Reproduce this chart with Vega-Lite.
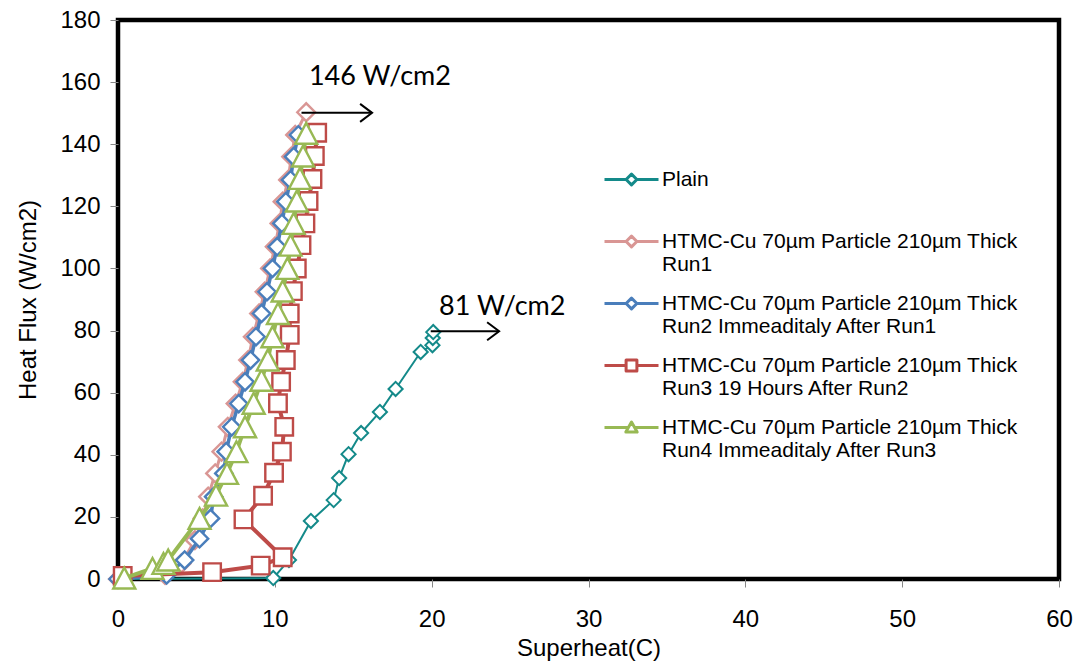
{
  "$schema": "https://vega.github.io/schema/vega-lite/v6.json",
  "width": 941,
  "height": 559,
  "autosize": {"type": "none"},
  "padding": {"left": 118, "top": 20, "right": 19, "bottom": 88},
  "background": "white",
  "config": {
    "font": "Liberation Sans",
    "view": {"stroke": "black", "strokeWidth": 4.5},
    "axis": {
      "domain": false, "grid": false, "tickColor": "#868686", "tickSize": 8, "tickWidth": 1, "labelFlush": false,
      "labelFont": "Liberation Sans", "labelFontSize": 24, "labelColor": "black",
      "titleFont": "Liberation Sans", "titleFontSize": 24, "titleFontWeight": "normal", "titleColor": "black"
    },
    "line": {"strokeJoin": "round"},
    "point": {"filled": false, "fill": "white", "opacity": 1}
  },
  "datasets": {
    "series": [
      {"series": "Plain", "superheat": 0, "flux": 0},
      {"series": "Plain", "superheat": 9.9, "flux": 0.3},
      {"series": "Plain", "superheat": 10.9, "flux": 6.1},
      {"series": "Plain", "superheat": 12.3, "flux": 18.7},
      {"series": "Plain", "superheat": 13.75, "flux": 25.4},
      {"series": "Plain", "superheat": 14.1, "flux": 32.5},
      {"series": "Plain", "superheat": 14.7, "flux": 40.2},
      {"series": "Plain", "superheat": 15.5, "flux": 47.0},
      {"series": "Plain", "superheat": 16.7, "flux": 53.8},
      {"series": "Plain", "superheat": 17.7, "flux": 61.2},
      {"series": "Plain", "superheat": 19.3, "flux": 73.1},
      {"series": "Plain", "superheat": 20.05, "flux": 75.3},
      {"series": "Plain", "superheat": 20.07, "flux": 77.6},
      {"series": "Plain", "superheat": 20.1, "flux": 79.5},

      {"series": "HTMC-Cu 70µm Particle 210µm Thick|Run1", "superheat": 0, "flux": 0},
      {"series": "HTMC-Cu 70µm Particle 210µm Thick|Run1", "superheat": 3.0, "flux": 1.3},
      {"series": "HTMC-Cu 70µm Particle 210µm Thick|Run1", "superheat": 4.05, "flux": 5.0},
      {"series": "HTMC-Cu 70µm Particle 210µm Thick|Run1", "superheat": 4.9, "flux": 12.5},
      {"series": "HTMC-Cu 70µm Particle 210µm Thick|Run1", "superheat": 5.4, "flux": 19.5},
      {"series": "HTMC-Cu 70µm Particle 210µm Thick|Run1", "superheat": 5.75, "flux": 26.5},
      {"series": "HTMC-Cu 70µm Particle 210µm Thick|Run1", "superheat": 6.2, "flux": 34.0},
      {"series": "HTMC-Cu 70µm Particle 210µm Thick|Run1", "superheat": 6.6, "flux": 41.0},
      {"series": "HTMC-Cu 70µm Particle 210µm Thick|Run1", "superheat": 7.0, "flux": 49.0},
      {"series": "HTMC-Cu 70µm Particle 210µm Thick|Run1", "superheat": 7.5, "flux": 56.5},
      {"series": "HTMC-Cu 70µm Particle 210µm Thick|Run1", "superheat": 7.95, "flux": 63.5},
      {"series": "HTMC-Cu 70µm Particle 210µm Thick|Run1", "superheat": 8.3, "flux": 70.5},
      {"series": "HTMC-Cu 70µm Particle 210µm Thick|Run1", "superheat": 8.6, "flux": 78.0},
      {"series": "HTMC-Cu 70µm Particle 210µm Thick|Run1", "superheat": 9.0, "flux": 85.5},
      {"series": "HTMC-Cu 70µm Particle 210µm Thick|Run1", "superheat": 9.35, "flux": 92.5},
      {"series": "HTMC-Cu 70µm Particle 210µm Thick|Run1", "superheat": 9.7, "flux": 100.0},
      {"series": "HTMC-Cu 70µm Particle 210µm Thick|Run1", "superheat": 10.0, "flux": 107.0},
      {"series": "HTMC-Cu 70µm Particle 210µm Thick|Run1", "superheat": 10.3, "flux": 114.5},
      {"series": "HTMC-Cu 70µm Particle 210µm Thick|Run1", "superheat": 10.5, "flux": 121.5},
      {"series": "HTMC-Cu 70µm Particle 210µm Thick|Run1", "superheat": 10.85, "flux": 128.5},
      {"series": "HTMC-Cu 70µm Particle 210µm Thick|Run1", "superheat": 11.05, "flux": 136.0},
      {"series": "HTMC-Cu 70µm Particle 210µm Thick|Run1", "superheat": 11.3, "flux": 143.0},
      {"series": "HTMC-Cu 70µm Particle 210µm Thick|Run1", "superheat": 12.0, "flux": 150.3},

      {"series": "HTMC-Cu 70µm Particle 210µm Thick|Run2 Immeaditaly After Run1", "superheat": 0, "flux": 0},
      {"series": "HTMC-Cu 70µm Particle 210µm Thick|Run2 Immeaditaly After Run1", "superheat": 3.1, "flux": 1.3},
      {"series": "HTMC-Cu 70µm Particle 210µm Thick|Run2 Immeaditaly After Run1", "superheat": 4.25, "flux": 6.1},
      {"series": "HTMC-Cu 70µm Particle 210µm Thick|Run2 Immeaditaly After Run1", "superheat": 5.2, "flux": 13.0},
      {"series": "HTMC-Cu 70µm Particle 210µm Thick|Run2 Immeaditaly After Run1", "superheat": 5.9, "flux": 19.5},
      {"series": "HTMC-Cu 70µm Particle 210µm Thick|Run2 Immeaditaly After Run1", "superheat": 6.1, "flux": 26.5},
      {"series": "HTMC-Cu 70µm Particle 210µm Thick|Run2 Immeaditaly After Run1", "superheat": 6.75, "flux": 34.0},
      {"series": "HTMC-Cu 70µm Particle 210µm Thick|Run2 Immeaditaly After Run1", "superheat": 6.9, "flux": 41.0},
      {"series": "HTMC-Cu 70µm Particle 210µm Thick|Run2 Immeaditaly After Run1", "superheat": 7.25, "flux": 49.0},
      {"series": "HTMC-Cu 70µm Particle 210µm Thick|Run2 Immeaditaly After Run1", "superheat": 7.7, "flux": 56.5},
      {"series": "HTMC-Cu 70µm Particle 210µm Thick|Run2 Immeaditaly After Run1", "superheat": 8.1, "flux": 63.5},
      {"series": "HTMC-Cu 70µm Particle 210µm Thick|Run2 Immeaditaly After Run1", "superheat": 8.45, "flux": 70.5},
      {"series": "HTMC-Cu 70µm Particle 210µm Thick|Run2 Immeaditaly After Run1", "superheat": 8.8, "flux": 78.0},
      {"series": "HTMC-Cu 70µm Particle 210µm Thick|Run2 Immeaditaly After Run1", "superheat": 9.15, "flux": 85.5},
      {"series": "HTMC-Cu 70µm Particle 210µm Thick|Run2 Immeaditaly After Run1", "superheat": 9.5, "flux": 92.5},
      {"series": "HTMC-Cu 70µm Particle 210µm Thick|Run2 Immeaditaly After Run1", "superheat": 9.85, "flux": 100.0},
      {"series": "HTMC-Cu 70µm Particle 210µm Thick|Run2 Immeaditaly After Run1", "superheat": 10.15, "flux": 107.0},
      {"series": "HTMC-Cu 70µm Particle 210µm Thick|Run2 Immeaditaly After Run1", "superheat": 10.45, "flux": 114.5},
      {"series": "HTMC-Cu 70µm Particle 210µm Thick|Run2 Immeaditaly After Run1", "superheat": 10.7, "flux": 121.5},
      {"series": "HTMC-Cu 70µm Particle 210µm Thick|Run2 Immeaditaly After Run1", "superheat": 11.0, "flux": 128.5},
      {"series": "HTMC-Cu 70µm Particle 210µm Thick|Run2 Immeaditaly After Run1", "superheat": 11.2, "flux": 136.0},
      {"series": "HTMC-Cu 70µm Particle 210µm Thick|Run2 Immeaditaly After Run1", "superheat": 11.5, "flux": 143.0},

      {"series": "HTMC-Cu 70µm Particle 210µm Thick|Run3 19 Hours After Run2", "superheat": 0.3, "flux": 1.0},
      {"series": "HTMC-Cu 70µm Particle 210µm Thick|Run3 19 Hours After Run2", "superheat": 6.0, "flux": 2.2},
      {"series": "HTMC-Cu 70µm Particle 210µm Thick|Run3 19 Hours After Run2", "superheat": 9.1, "flux": 4.3},
      {"series": "HTMC-Cu 70µm Particle 210µm Thick|Run3 19 Hours After Run2", "superheat": 10.5, "flux": 7.0},
      {"series": "HTMC-Cu 70µm Particle 210µm Thick|Run3 19 Hours After Run2", "superheat": 8.0, "flux": 19.2},
      {"series": "HTMC-Cu 70µm Particle 210µm Thick|Run3 19 Hours After Run2", "superheat": 9.25, "flux": 26.8},
      {"series": "HTMC-Cu 70µm Particle 210µm Thick|Run3 19 Hours After Run2", "superheat": 9.95, "flux": 34.2},
      {"series": "HTMC-Cu 70µm Particle 210µm Thick|Run3 19 Hours After Run2", "superheat": 10.45, "flux": 41.0},
      {"series": "HTMC-Cu 70µm Particle 210µm Thick|Run3 19 Hours After Run2", "superheat": 10.6, "flux": 49.0},
      {"series": "HTMC-Cu 70µm Particle 210µm Thick|Run3 19 Hours After Run2", "superheat": 10.2, "flux": 56.6},
      {"series": "HTMC-Cu 70µm Particle 210µm Thick|Run3 19 Hours After Run2", "superheat": 10.4, "flux": 63.5},
      {"series": "HTMC-Cu 70µm Particle 210µm Thick|Run3 19 Hours After Run2", "superheat": 10.7, "flux": 70.5},
      {"series": "HTMC-Cu 70µm Particle 210µm Thick|Run3 19 Hours After Run2", "superheat": 10.95, "flux": 78.6},
      {"series": "HTMC-Cu 70µm Particle 210µm Thick|Run3 19 Hours After Run2", "superheat": 10.95, "flux": 85.5},
      {"series": "HTMC-Cu 70µm Particle 210µm Thick|Run3 19 Hours After Run2", "superheat": 11.15, "flux": 92.7},
      {"series": "HTMC-Cu 70µm Particle 210µm Thick|Run3 19 Hours After Run2", "superheat": 11.4, "flux": 100.0},
      {"series": "HTMC-Cu 70µm Particle 210µm Thick|Run3 19 Hours After Run2", "superheat": 11.7, "flux": 107.5},
      {"series": "HTMC-Cu 70µm Particle 210µm Thick|Run3 19 Hours After Run2", "superheat": 11.95, "flux": 114.5},
      {"series": "HTMC-Cu 70µm Particle 210µm Thick|Run3 19 Hours After Run2", "superheat": 12.15, "flux": 121.7},
      {"series": "HTMC-Cu 70µm Particle 210µm Thick|Run3 19 Hours After Run2", "superheat": 12.4, "flux": 128.8},
      {"series": "HTMC-Cu 70µm Particle 210µm Thick|Run3 19 Hours After Run2", "superheat": 12.55, "flux": 136.2},
      {"series": "HTMC-Cu 70µm Particle 210µm Thick|Run3 19 Hours After Run2", "superheat": 12.7, "flux": 143.7},

      {"series": "HTMC-Cu 70µm Particle 210µm Thick|Run4 Immeaditaly After Run3", "superheat": 0.4, "flux": 0.3},
      {"series": "HTMC-Cu 70µm Particle 210µm Thick|Run4 Immeaditaly After Run3", "superheat": 2.2, "flux": 3.4},
      {"series": "HTMC-Cu 70µm Particle 210µm Thick|Run4 Immeaditaly After Run3", "superheat": 2.9, "flux": 5.0},
      {"series": "HTMC-Cu 70µm Particle 210µm Thick|Run4 Immeaditaly After Run3", "superheat": 3.2, "flux": 6.1},
      {"series": "HTMC-Cu 70µm Particle 210µm Thick|Run4 Immeaditaly After Run3", "superheat": 5.2, "flux": 19.5},
      {"series": "HTMC-Cu 70µm Particle 210µm Thick|Run4 Immeaditaly After Run3", "superheat": 6.25, "flux": 27.0},
      {"series": "HTMC-Cu 70µm Particle 210µm Thick|Run4 Immeaditaly After Run3", "superheat": 6.95, "flux": 34.0},
      {"series": "HTMC-Cu 70µm Particle 210µm Thick|Run4 Immeaditaly After Run3", "superheat": 7.55, "flux": 41.0},
      {"series": "HTMC-Cu 70µm Particle 210µm Thick|Run4 Immeaditaly After Run3", "superheat": 8.1, "flux": 49.0},
      {"series": "HTMC-Cu 70µm Particle 210µm Thick|Run4 Immeaditaly After Run3", "superheat": 8.65, "flux": 56.6},
      {"series": "HTMC-Cu 70µm Particle 210µm Thick|Run4 Immeaditaly After Run3", "superheat": 9.15, "flux": 64.0},
      {"series": "HTMC-Cu 70µm Particle 210µm Thick|Run4 Immeaditaly After Run3", "superheat": 9.55, "flux": 70.5},
      {"series": "HTMC-Cu 70µm Particle 210µm Thick|Run4 Immeaditaly After Run3", "superheat": 9.85, "flux": 78.0},
      {"series": "HTMC-Cu 70µm Particle 210µm Thick|Run4 Immeaditaly After Run3", "superheat": 10.2, "flux": 85.5},
      {"series": "HTMC-Cu 70µm Particle 210µm Thick|Run4 Immeaditaly After Run3", "superheat": 10.5, "flux": 92.7},
      {"series": "HTMC-Cu 70µm Particle 210µm Thick|Run4 Immeaditaly After Run3", "superheat": 10.8, "flux": 100.0},
      {"series": "HTMC-Cu 70µm Particle 210µm Thick|Run4 Immeaditaly After Run3", "superheat": 11.0, "flux": 107.5},
      {"series": "HTMC-Cu 70µm Particle 210µm Thick|Run4 Immeaditaly After Run3", "superheat": 11.2, "flux": 114.5},
      {"series": "HTMC-Cu 70µm Particle 210µm Thick|Run4 Immeaditaly After Run3", "superheat": 11.4, "flux": 121.7},
      {"series": "HTMC-Cu 70µm Particle 210µm Thick|Run4 Immeaditaly After Run3", "superheat": 11.6, "flux": 129.0},
      {"series": "HTMC-Cu 70µm Particle 210µm Thick|Run4 Immeaditaly After Run3", "superheat": 11.8, "flux": 136.2},
      {"series": "HTMC-Cu 70µm Particle 210µm Thick|Run4 Immeaditaly After Run3", "superheat": 12.0, "flux": 143.5}
    ],
    "notes": [
      {"superheat": 16.7, "flux": 161.7, "label": "146 W/cm2"},
      {"superheat": 24.5, "flux": 87.6, "label": "81 W/cm2"}
    ],
    "arrows": [
      {"superheat": 11.7, "superheat2": 16.2, "flux": 150.1},
      {"superheat": 19.94, "superheat2": 24.3, "flux": 79.8}
    ]
  },
  "encoding": {
    "x": {"field": "superheat", "type": "quantitative", "title": "Superheat(C)",
          "scale": {"domain": [0, 60], "nice": false, "zero": false},
          "axis": {"values": [0, 10, 20, 30, 40, 50, 60], "labelPadding": 20, "titleY": 69, "titleBaseline": "middle"}},
    "y": {"field": "flux", "type": "quantitative", "title": "Heat Flux (W/cm2)",
          "scale": {"domain": [0, 180], "nice": false, "zero": false},
          "axis": {"values": [0, 20, 40, 60, 80, 100, 120, 140, 160, 180], "labelPadding": 10, "titleX": -90, "titleY": 279.5, "titleBaseline": "middle", "titleAlign": "center", "titleAngle": -90}}
  },
  "layer": [
    {
      "data": {"name": "series"},
      "transform": [{"filter": {"field": "series", "equal": "Plain"}}],
      "mark": {"type": "line", "strokeWidth": 2},
      "encoding": {
        "order": {"field": "flux", "type": "quantitative"},
        "color": {
          "field": "series", "type": "nominal",
          "scale": {
            "domain": ["Plain", "HTMC-Cu 70µm Particle 210µm Thick|Run1", "HTMC-Cu 70µm Particle 210µm Thick|Run2 Immeaditaly After Run1", "HTMC-Cu 70µm Particle 210µm Thick|Run3 19 Hours After Run2", "HTMC-Cu 70µm Particle 210µm Thick|Run4 Immeaditaly After Run3"],
            "range": ["#148A8A", "#D99694", "#4A7EBB", "#BE4B48", "#98B954"]
          },
          "legend": {
            "orient": "none", "legendX": 485, "legendY": 131, "title": null, "padding": 0,
            "rowPadding": -9, "labelOffset": 2, "symbolSize": 2916, "symbolStrokeWidth": 3, "symbolFillColor": "white",
            "labelFont": "Liberation Sans", "labelFontSize": 21, "labelColor": "black", "labelLimit": 700, "labelBaseline": "middle",
            "labelExpr": "datum.label == 'Plain' ? ['Plain', ''] : split(datum.label, '|')"
          }
        }
      }
    },
    {
      "data": {"name": "series"},
      "transform": [{"filter": "datum.flux < 0"}],
      "mark": {"type": "point", "filled": false, "fill": "white", "strokeWidth": 3, "opacity": 1},
      "encoding": {
        "color": {"field": "series", "type": "nominal"},
        "shape": {
          "field": "series", "type": "nominal", "legend": null,
          "scale": {
            "domain": ["Plain", "HTMC-Cu 70µm Particle 210µm Thick|Run1", "HTMC-Cu 70µm Particle 210µm Thick|Run2 Immeaditaly After Run1", "HTMC-Cu 70µm Particle 210µm Thick|Run3 19 Hours After Run2", "HTMC-Cu 70µm Particle 210µm Thick|Run4 Immeaditaly After Run3"],
            "range": [
              "M-1,0L-0.2,0M0.2,0L1,0M-0.2,0L0,-0.2L0.2,0L0,0.2Z",
              "M-1,0L-0.2,0M0.2,0L1,0M-0.2,0L0,-0.2L0.2,0L0,0.2Z",
              "M-1,0L-0.2,0M0.2,0L1,0M-0.2,0L0,-0.2L0.2,0L0,0.2Z",
              "M-1,0L-0.2,0M0.2,0L1,0M-0.2,-0.2L0.2,-0.2L0.2,0.2L-0.2,0.2Z",
              "M-1,0L-0.12,0M0.12,0L1,0M0,-0.2L0.21,0.17L-0.21,0.17Z"
            ]
          }
        }
      }
    },
    {
      "data": {"name": "series"},
      "transform": [{"filter": {"field": "series", "equal": "Plain"}}],
      "mark": {"type": "point", "shape": "diamond", "size": 200, "stroke": "#148A8A", "strokeWidth": 2}
    },
    {
      "data": {"name": "series"},
      "transform": [{"filter": {"field": "series", "equal": "HTMC-Cu 70µm Particle 210µm Thick|Run1"}}],
      "mark": {"type": "line", "strokeWidth": 3},
      "encoding": {
        "order": {"field": "flux", "type": "quantitative"},
        "color": {"field": "series", "type": "nominal"}
      }
    },
    {
      "data": {"name": "series"},
      "transform": [{"filter": {"field": "series", "equal": "HTMC-Cu 70µm Particle 210µm Thick|Run1"}}],
      "mark": {"type": "point", "shape": "diamond", "size": 320, "stroke": "#D99694", "strokeWidth": 2.4}
    },
    {
      "data": {"name": "series"},
      "transform": [{"filter": {"field": "series", "equal": "HTMC-Cu 70µm Particle 210µm Thick|Run2 Immeaditaly After Run1"}}],
      "mark": {"type": "line", "strokeWidth": 3.5},
      "encoding": {
        "order": {"field": "flux", "type": "quantitative"},
        "color": {"field": "series", "type": "nominal"}
      }
    },
    {
      "data": {"name": "series"},
      "transform": [{"filter": {"field": "series", "equal": "HTMC-Cu 70µm Particle 210µm Thick|Run2 Immeaditaly After Run1"}}],
      "mark": {"type": "point", "shape": "diamond", "size": 300, "stroke": "#4A7EBB", "strokeWidth": 2.4}
    },
    {
      "data": {"name": "series"},
      "transform": [{"filter": {"field": "series", "equal": "HTMC-Cu 70µm Particle 210µm Thick|Run3 19 Hours After Run2"}}],
      "mark": {"type": "line", "strokeWidth": 4},
      "encoding": {
        "order": {"field": "flux", "type": "quantitative"},
        "color": {"field": "series", "type": "nominal"}
      }
    },
    {
      "data": {"name": "series"},
      "transform": [{"filter": {"field": "series", "equal": "HTMC-Cu 70µm Particle 210µm Thick|Run3 19 Hours After Run2"}}],
      "mark": {"type": "point", "shape": "square", "size": 306, "stroke": "#BE4B48", "strokeWidth": 2.4}
    },
    {
      "data": {"name": "series"},
      "transform": [{"filter": {"field": "series", "equal": "HTMC-Cu 70µm Particle 210µm Thick|Run4 Immeaditaly After Run3"}}],
      "mark": {"type": "line", "strokeWidth": 4},
      "encoding": {
        "order": {"field": "flux", "type": "quantitative"},
        "color": {"field": "series", "type": "nominal"}
      }
    },
    {
      "data": {"name": "series"},
      "transform": [{"filter": {"field": "series", "equal": "HTMC-Cu 70µm Particle 210µm Thick|Run4 Immeaditaly After Run3"}}],
      "mark": {"type": "point", "shape": "M0,-0.95L1,0.95L-1,0.95Z", "size": 484, "stroke": "#98B954", "strokeWidth": 2.4}
    },
    {
      "data": {"name": "arrows"},
      "mark": {"type": "rule", "color": "black", "strokeWidth": 2},
      "encoding": {
        "x2": {"field": "superheat2"}
      }
    },
    {
      "data": {"name": "arrows"},
      "mark": {"type": "point", "shape": "M-1.33,-1L0,0L-1.33,1", "fill": "transparent", "stroke": "black", "strokeWidth": 2, "size": 324},
      "encoding": {
        "x": {"field": "superheat2", "type": "quantitative", "title": "Superheat(C)"}
      }
    },
    {
      "data": {"name": "notes"},
      "mark": {"type": "text", "font": "Lato", "fontSize": 27, "color": "black", "align": "center", "baseline": "middle"},
      "encoding": {
        "text": {"field": "label", "type": "nominal"}
      }
    }
  ]
}
